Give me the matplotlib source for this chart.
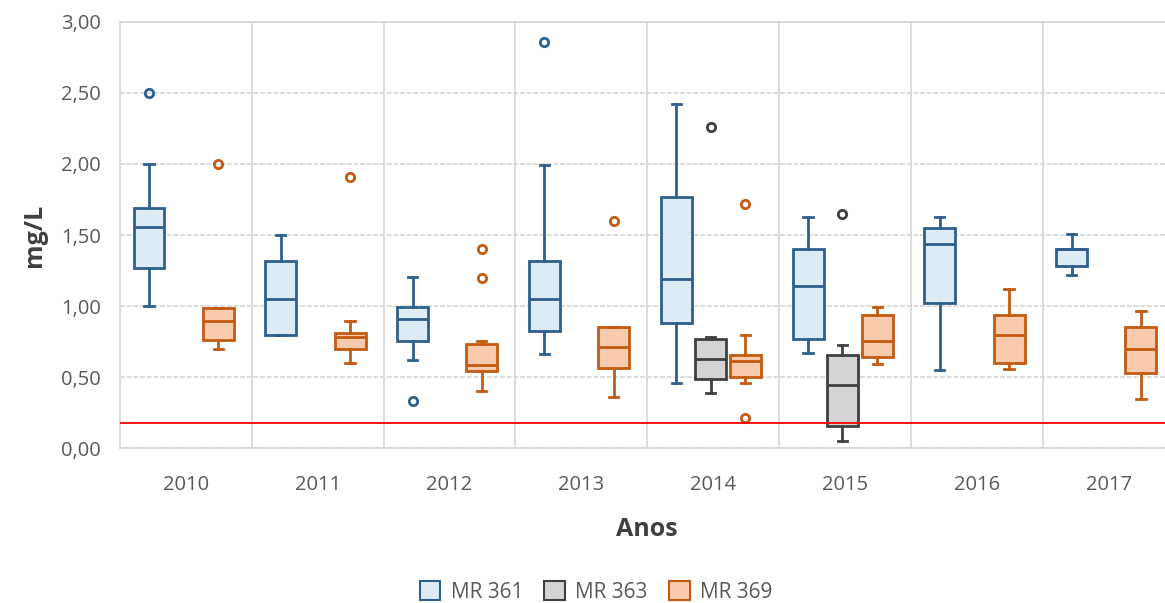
import matplotlib.pyplot as plt
from matplotlib.patches import Patch
from matplotlib.ticker import FuncFormatter

years = ["2010", "2011", "2012", "2013", "2014", "2015", "2016", "2017"]

# MR 361 box statistics per year
mr361_lo = [1.00, 0.80, 0.62, 0.66, 0.46, 0.67, 0.55, 1.22]
mr361_q1 = [1.27, 0.80, 0.755, 0.825, 0.88, 0.77, 1.02, 1.28]
mr361_med = [1.555, 1.05, 0.91, 1.05, 1.19, 1.14, 1.44, 1.40]
mr361_q3 = [1.69, 1.315, 0.995, 1.32, 1.765, 1.40, 1.55, 1.40]
mr361_hi = [2.00, 1.50, 1.205, 1.99, 2.42, 1.625, 1.625, 1.51]
mr361_out = [[2.50], [], [0.335], [2.86], [], [], [], []]

# MR 363 only sampled in 2014 and 2015
mr363_lo = [None, None, None, None, 0.39, 0.05, None, None]
mr363_q1 = [None, None, None, None, 0.49, 0.155, None, None]
mr363_med = [None, None, None, None, 0.63, 0.445, None, None]
mr363_q3 = [None, None, None, None, 0.77, 0.655, None, None]
mr363_hi = [None, None, None, None, 0.78, 0.725, None, None]
mr363_out = [[], [], [], [], [2.26], [1.65], [], []]

# MR 369 box statistics per year
mr369_lo = [0.70, 0.60, 0.405, 0.36, 0.46, 0.59, 0.56, 0.35]
mr369_q1 = [0.765, 0.70, 0.545, 0.565, 0.50, 0.64, 0.60, 0.53]
mr369_med = [0.895, 0.785, 0.585, 0.71, 0.615, 0.755, 0.80, 0.70]
mr369_q3 = [0.99, 0.81, 0.73, 0.855, 0.655, 0.935, 0.935, 0.85]
mr369_hi = [0.99, 0.895, 0.755, 0.855, 0.795, 0.995, 1.12, 0.965]
mr369_out = [[2.00], [1.905], [1.40, 1.20], [1.60], [1.72, 0.21], [], [], []]

limit_value = 0.18

series = [
    ("MR 361", mr361_lo, mr361_q1, mr361_med, mr361_q3, mr361_hi, mr361_out, "#2f5f8c", "#ddebf7", -0.28),
    ("MR 363", mr363_lo, mr363_q1, mr363_med, mr363_q3, mr363_hi, mr363_out, "#404040", "#d4d4d4", -0.02),
    ("MR 369", mr369_lo, mr369_q1, mr369_med, mr369_q3, mr369_hi, mr369_out, "#c55a11", "#f8cbad", 0.245),
]

plt.rcParams["font.family"] = ["Open Sans", "DejaVu Sans"]

fig = plt.figure(figsize=(11.65, 6.03), dpi=100)
ax = fig.add_axes([120 / 1165, 1 - 448.3 / 603, 1054.5 / 1165, 426.6 / 603])

handles = []
for name, lo, q1, med, q3, hi, out, edge, fill, off in series:
    stats = []
    pos = []
    for i in range(len(years)):
        if q1[i] is None:
            continue
        stats.append({"whislo": lo[i], "q1": q1[i], "med": med[i], "q3": q3[i],
                      "whishi": hi[i], "fliers": out[i]})
        pos.append(i + off)
    line = dict(color=edge, linewidth=2)
    ax.bxp(stats, positions=pos, widths=0.235, capwidths=0.07, patch_artist=True,
           boxprops=dict(facecolor=fill, edgecolor=edge, linewidth=2),
           medianprops=line, whiskerprops=line, capprops=line,
           flierprops=dict(marker="o", markersize=6, markerfacecolor="none",
                           markeredgecolor=edge, markeredgewidth=2),
           manage_ticks=False, zorder=3)
    handles.append(Patch(facecolor=fill, edgecolor=edge, linewidth=1.5, label=name))

ax.axhline(limit_value, color="red", linewidth=1.3, zorder=4)

ax.set_xlim(-0.5, len(years) - 0.5)
ax.set_ylim(0, 3)
ax.set_yticks([0, 0.5, 1, 1.5, 2, 2.5, 3])
ax.yaxis.set_major_formatter(FuncFormatter(lambda v, p: f"{v:.2f}".replace(".", ",")))
ax.set_xticks(range(len(years)))
ax.set_xticklabels(years)
ax.tick_params(axis="both", length=0, labelsize=14.5, colors="#595959")
ax.tick_params(axis="x", pad=19)
ax.tick_params(axis="y", pad=14)

ax.grid(axis="y", color="#d6d6d6", linestyle=(0, (3, 1)), linewidth=1.2, zorder=0)
for b in range(1, len(years)):
    ax.axvline(b - 0.5, color="#d6d6d6", linewidth=1.2, zorder=0)
for s in ax.spines.values():
    s.set_color("#d6d6d6")
    s.set_linewidth(1.2)

ax.set_ylabel("mg/L", fontsize=18, fontweight="bold", color="#404040", labelpad=10)
ax.set_xlabel("Anos", fontsize=18, fontweight="bold", color="#404040", labelpad=16)

fig.legend(handles=handles, loc="center", bbox_to_anchor=(596 / 1165, 1 - 592 / 603),
           ncol=3, frameon=False, fontsize=15, handlelength=1.0, handleheight=1.0,
           columnspacing=1.0, handletextpad=0.5, labelcolor="#595959")

fig.savefig("out.png", dpi=100)
